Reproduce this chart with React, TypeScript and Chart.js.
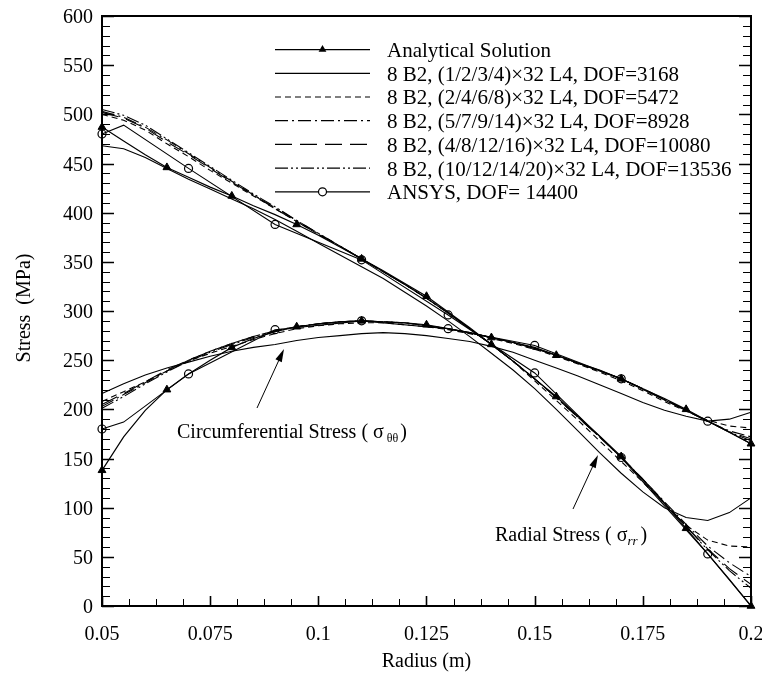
import React, { useEffect, useRef } from "react";
import { Chart, registerables } from "chart.js";

Chart.register(...registerables);

// Radius grid (m)
const radius = [0.05,0.055,0.06,0.065,0.07,0.075,0.08,0.085,0.09,0.095,0.1,0.105,0.11,0.115,0.12,0.125,0.13,0.135,0.14,0.145,0.15,0.155,0.16,0.165,0.17,0.175,0.18,0.185,0.19,0.195,0.2];

// Analytical solution (MPa)
const analyticRadial = [487,473,459,446,436,426,417,407,398,388,377,365,353,341,328,315,299,283,266,249,231,213,193,173,152,128,104,79,53,27,0];
const analyticHoop = [138,172,199,220,236,250,263,272,279,284,287,289,290,289,288,286,282,278,273,268,263,255,247,240,231,221,211,200,188,177,165];

// FE results, radial stress
const fe3168Radial = [468,465,456,445,434,424,414,404,393,381,369,357,345,333,319,305,290,274,257,240,221,200,178,156,135,116,100,90,87,95,110];
const fe5472Radial = [500,494,484,470,457,443,430,417,404,391,378,366,353,340,327,313,298,282,266,249,229,209,189,168,147,126,104,82,67,61,60];
const fe8928Radial = [503,497,487,474,460,446,432,418,405,392,379,366,353,340,327,313,298,282,266,249,231,212,192,172,151,129,106,83,61,44,30];
const fe10080Radial = [502,496,486,472,459,445,431,418,404,391,378,366,353,340,327,313,298,282,266,249,231,212,192,172,151,129,105,81,58,38,22];
const fe13536Radial = [505,499,489,475,461,447,433,419,406,392,379,366,353,340,327,313,298,282,266,249,231,212,192,172,151,129,105,81,57,36,18];

// FE results, circumferential stress
const fe3168Hoop = [216,226,235,242,248,254,259,263,266,270,273,275,277,278,277,275,272,269,264,258,250,242,234,225,216,207,199,193,188,190,197];
const fe5472Hoop = [208,218,228,239,249,257,264,271,277,282,285,287,288,288,286,284,281,277,272,267,261,254,246,238,229,219,208,198,189,183,181];
const fe8928Hoop = [203,215,227,239,250,259,267,274,280,284,287,289,290,289,288,285,282,278,273,268,262,255,247,239,231,221,210,199,188,178,172];
const fe10080Hoop = [205,216,228,240,250,259,267,274,280,284,287,289,290,289,288,285,282,278,273,268,262,255,247,239,231,221,210,199,188,177,170];
const fe13536Hoop = [201,213,226,238,249,258,266,273,279,284,287,289,290,289,288,285,282,278,273,268,262,255,247,239,231,221,210,199,188,177,168];

// ANSYS results
const ansysRadius = [0.05,0.055,0.07,0.09,0.11,0.13,0.15,0.17,0.19,0.2];
const ansysMarked = [true,false,true,true,true,true,true,true,true,false];
const ansysRadial = [480,489,445,388,352,296,237,151,53,0];
const ansysHoop = [180,187,236,281,290,282,265,231,188,165];

// Axis ticks
const xTicks = [0.05,0.075,0.1,0.125,0.15,0.175,0.2];
const xTickLabels = ["0.05","0.075","0.1","0.125","0.15","0.175","0.2"];
const yTicks = [0,50,100,150,200,250,300,350,400,450,500,550,600];
const yTickLabels = ["0","50","100","150","200","250","300","350","400","450","500","550","600"];

const legendLabels = [
  "Analytical Solution",
  "8 B2, (1/2/3/4)\u00d732 L4, DOF=3168",
  "8 B2, (2/4/6/8)\u00d732 L4, DOF=5472",
  "8 B2, (5/7/9/14)\u00d732 L4, DOF=8928",
  "8 B2, (4/8/12/16)\u00d732 L4, DOF=10080",
  "8 B2, (10/12/14/20)\u00d732 L4, DOF=13536",
  "ANSYS, DOF= 14400",
];

const FONT = "'Liberation Serif', 'Times New Roman', serif";
const dashes: number[][] = [[], [], [6, 4], [13, 4, 2, 4], [17, 8], [13, 3, 2, 3, 2, 3], []];

function zip(xs: number[], ys: number[]) {
  return xs.map((x, i) => ({ x, y: ys[i] }));
}

function drawArrow(ctx: CanvasRenderingContext2D, x1: number, y1: number, x2: number, y2: number) {
  const ang = Math.atan2(y2 - y1, x2 - x1);
  const len = 13, hw = 3.5;
  ctx.beginPath();
  ctx.moveTo(x1, y1);
  ctx.lineTo(x2 - Math.cos(ang) * len * 0.8, y2 - Math.sin(ang) * len * 0.8);
  ctx.stroke();
  ctx.beginPath();
  ctx.moveTo(x2, y2);
  ctx.lineTo(x2 - Math.cos(ang) * len + Math.sin(ang) * hw, y2 - Math.sin(ang) * len - Math.cos(ang) * hw);
  ctx.lineTo(x2 - Math.cos(ang) * len - Math.sin(ang) * hw, y2 - Math.sin(ang) * len + Math.cos(ang) * hw);
  ctx.closePath();
  ctx.fill();
}

const decorPlugin = {
  id: "decor",
  afterDraw(chart: any) {
    const ctx: CanvasRenderingContext2D = chart.ctx;
    const a = chart.chartArea;
    const xs = chart.scales.x;
    const ys = chart.scales.y;
    ctx.save();
    ctx.strokeStyle = "#000";
    ctx.fillStyle = "#000";
    ctx.setLineDash([]);

    // frame
    ctx.lineWidth = 2;
    ctx.strokeRect(a.left, a.top, a.right - a.left, a.bottom - a.top);

    // y ticks (left and right, inward)
    for (let v = 0; v <= 600; v += 10) {
      const py = Math.round(ys.getPixelForValue(v)) + 0.5;
      const major = v % 50 === 0;
      const len = major ? 12 : 8;
      ctx.lineWidth = major ? 1.6 : 1;
      ctx.beginPath();
      ctx.moveTo(a.left, py);
      ctx.lineTo(a.left + len, py);
      ctx.moveTo(a.right, py);
      ctx.lineTo(a.right - len, py);
      ctx.stroke();
    }
    // x ticks (bottom, inward)
    for (let i = 0; i <= 24; i++) {
      const v = 0.05 + i * 0.00625;
      const px = Math.round(xs.getPixelForValue(v)) + 0.5;
      const major = i % 4 === 0;
      const len = major ? 10 : 7;
      ctx.lineWidth = major ? 1.6 : 1;
      ctx.beginPath();
      ctx.moveTo(px, a.bottom);
      ctx.lineTo(px, a.bottom - len);
      ctx.stroke();
    }

    // tick labels
    ctx.font = `20px ${FONT}`;
    ctx.textBaseline = "alphabetic";
    ctx.textAlign = "right";
    yTicks.forEach((v, i) => {
      ctx.fillText(yTickLabels[i], a.left - 9, ys.getPixelForValue(v) + 7);
    });
    ctx.textAlign = "center";
    xTicks.forEach((v, i) => {
      ctx.fillText(xTickLabels[i], xs.getPixelForValue(v), a.bottom + 34);
    });

    // axis titles
    ctx.fillText("Radius (m)", (a.left + a.right) / 2, 667);
    ctx.save();
    ctx.translate(30, 308);
    ctx.rotate(-Math.PI / 2);
    ctx.fillText("Stress  (MPa)", 0, 0);
    ctx.restore();

    // legend
    const lx1 = 275, lx2 = 370, tx = 387, y0 = 49.6, dy = 23.7;
    ctx.font = `21px ${FONT}`;
    ctx.textAlign = "left";
    legendLabels.forEach((lab, i) => {
      const y = y0 + i * dy;
      ctx.lineWidth = 1.2;
      ctx.setLineDash(dashes[i]);
      ctx.beginPath();
      ctx.moveTo(lx1, y);
      ctx.lineTo(lx2, y);
      ctx.stroke();
      ctx.setLineDash([]);
      const mx = (lx1 + lx2) / 2;
      if (i === 0) {
        const r = 4.5;
        ctx.beginPath();
        ctx.moveTo(mx, y - r);
        ctx.lineTo(mx + r * 0.866, y + r * 0.5);
        ctx.lineTo(mx - r * 0.866, y + r * 0.5);
        ctx.closePath();
        ctx.fill();
      } else if (i === 6) {
        ctx.beginPath();
        ctx.fillStyle = "#fff";
        ctx.arc(mx, y, 4, 0, Math.PI * 2);
        ctx.fill();
        ctx.stroke();
        ctx.fillStyle = "#000";
      }
      ctx.fillText(lab, tx, y + 7.4);
    });

    // annotations
    ctx.font = `20px ${FONT}`;
    let x = 177;
    const cb = 438;
    const t1 = "Circumferential Stress ( \u03c3";
    ctx.fillText(t1, x, cb);
    x += ctx.measureText(t1).width + 3;
    ctx.font = `12px ${FONT}`;
    ctx.fillText("\u03b8\u03b8", x, cb + 4);
    x += ctx.measureText("\u03b8\u03b8").width + 2;
    ctx.font = `20px ${FONT}`;
    ctx.fillText(")", x, cb);

    let x2 = 495;
    const rb = 541;
    const t2 = "Radial Stress ( \u03c3";
    ctx.fillText(t2, x2, rb);
    x2 += ctx.measureText(t2).width;
    ctx.font = `italic 13px ${FONT}`;
    ctx.fillText("rr", x2, rb + 4);
    x2 += ctx.measureText("rr").width + 3;
    ctx.font = `20px ${FONT}`;
    ctx.fillText(")", x2, rb);

    ctx.lineWidth = 1;
    drawArrow(ctx, 257, 408, 284, 349);
    drawArrow(ctx, 573, 509, 598, 455);

    ctx.restore();
  },
};

export default function App() {
  const ref = useRef<HTMLCanvasElement | null>(null);
  useEffect(() => {
    if (!ref.current) return;
    const triRadius = radius.map((_, i) => (i % 3 === 0 ? 4.5 : 0));
    const ansRadius = ansysMarked.map((m) => (m ? 4 : 0));
    const base = { borderColor: "#000", borderWidth: 1.1, pointRadius: 0, fill: false, tension: 0, clip: false as any };
    const fe = (ys: number[], dash: number[]) => ({ ...base, data: zip(radius, ys), borderDash: dash });
    const analytic = (ys: number[]) => ({
      ...base,
      borderWidth: 1.2,
      data: zip(radius, ys),
      pointStyle: "triangle",
      pointRadius: triRadius,
      pointBackgroundColor: "#000",
      pointBorderColor: "#000",
      pointBorderWidth: 1,
    });
    const ansys = (ys: number[]) => ({
      ...base,
      data: zip(ansysRadius, ys),
      pointStyle: "circle",
      pointRadius: ansRadius,
      pointBackgroundColor: "rgba(0,0,0,0)",
      pointBorderColor: "#000",
      pointBorderWidth: 1.2,
    });
    const chart = new Chart(ref.current, {
      type: "line",
      data: {
        datasets: [
          fe(fe3168Radial, dashes[1]),
          fe(fe5472Radial, dashes[2]),
          fe(fe8928Radial, dashes[3]),
          fe(fe10080Radial, dashes[4]),
          fe(fe13536Radial, dashes[5]),
          fe(fe3168Hoop, dashes[1]),
          fe(fe5472Hoop, dashes[2]),
          fe(fe8928Hoop, dashes[3]),
          fe(fe10080Hoop, dashes[4]),
          fe(fe13536Hoop, dashes[5]),
          ansys(ansysRadial),
          ansys(ansysHoop),
          analytic(analyticRadial),
          analytic(analyticHoop),
        ] as any,
      },
      options: {
        responsive: false,
        animation: false,
        events: [],
        layout: { padding: { left: 102, top: 16, right: 11, bottom: 74 } },
        scales: {
          x: { type: "linear", min: 0.05, max: 0.2, display: false },
          y: { type: "linear", min: 0, max: 600, display: false },
        },
        plugins: { legend: { display: false }, tooltip: { enabled: false } },
      },
      plugins: [decorPlugin],
    });
    return () => chart.destroy();
  }, []);
  return (
    <div style={{ position: "absolute", left: 0, top: 0, width: 762, height: 680, background: "#fff" }}>
      <canvas ref={ref} width={762} height={680} style={{ display: "block" }} />
    </div>
  );
}
